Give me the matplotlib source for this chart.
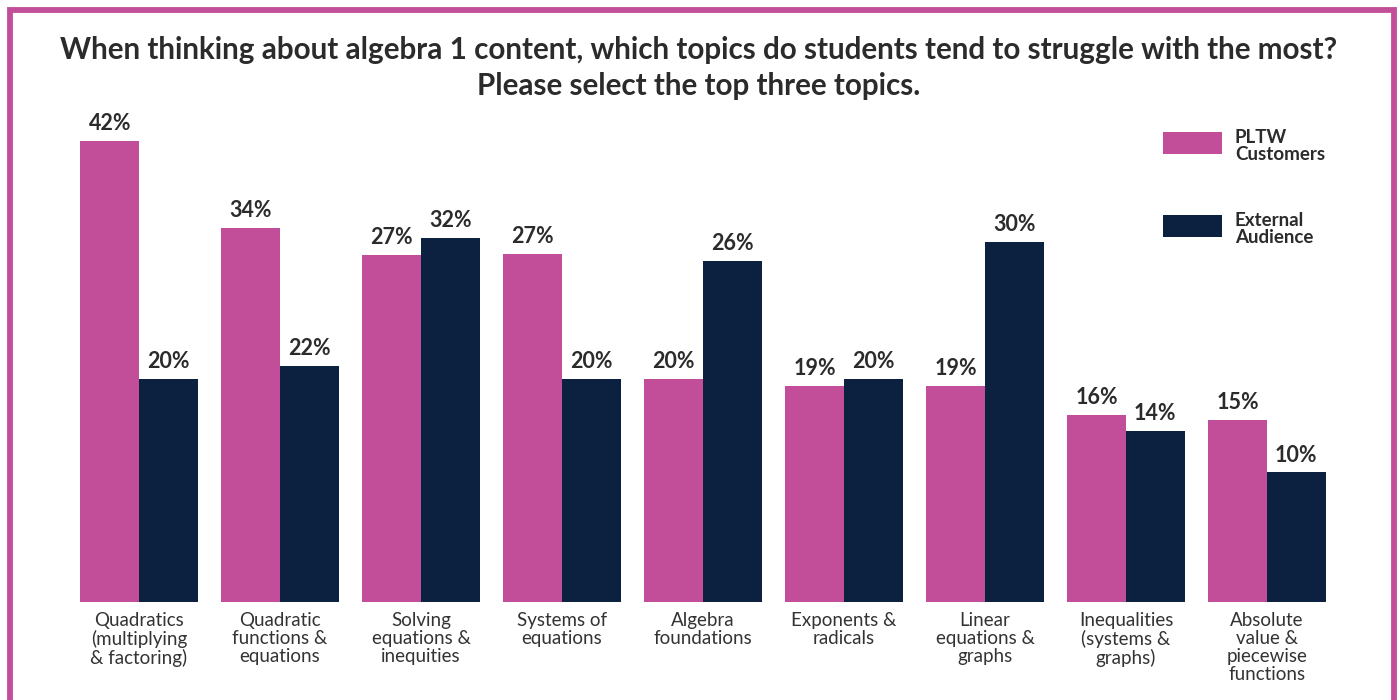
import matplotlib
matplotlib.use("Agg")
import matplotlib.pyplot as plt
from matplotlib.patches import Rectangle
import numpy as np

plt.rcParams['font.family'] = ['Lato', 'DejaVu Sans']

categories = [
    "Quadratics\n(multiplying\n& factoring)",
    "Quadratic\nfunctions &\nequations",
    "Solving\nequations &\ninequities",
    "Systems of\nequations",
    "Algebra\nfoundations",
    "Exponents &\nradicals",
    "Linear\nequations &\ngraphs",
    "Inequalities\n(systems &\ngraphs)",
    "Absolute\nvalue &\npiecewise\nfunctions",
]
series_names = ["PLTW\nCustomers", "External\nAudience"]

# printed value labels
pltw_labels = [42, 34, 27, 27, 20, 19, 19, 16, 15]
external_labels = [20, 22, 32, 20, 26, 20, 30, 14, 10]

# bar heights as drawn in the picture (percent units)
pltw_heights = [42.0, 34.1, 31.6, 31.7, 20.3, 19.7, 19.7, 17.0, 16.6]
external_heights = [20.3, 21.5, 33.2, 20.3, 31.1, 20.3, 32.8, 15.6, 11.8]

PINK = "#C24D98"
NAVY = "#0C213F"
TEXT = "#2B2B2B"

W, H = 1398, 700
fig = plt.figure(figsize=(W / 100, H / 100), dpi=100)
fig.patch.set_facecolor("white")

# axes geometry in pixels
x_left, x_right = 68.5, 1337.5
y_base = 602
ymax = 46
px_per_unit = 10.976
ax_h = ymax * px_per_unit
ax = fig.add_axes([x_left / W, (H - y_base) / H, (x_right - x_left) / W, ax_h / H])

x = np.arange(len(categories))
bw = 0.415
b1 = ax.bar(x - bw / 2, pltw_heights, bw, color=PINK, label=series_names[0])
b2 = ax.bar(x + bw / 2, external_heights, bw, color=NAVY, label=series_names[1])

ax.bar_label(b1, labels=[f"{v}%" for v in pltw_labels], padding=5.0,
             fontsize=15.5, fontweight="bold", color=TEXT)
ax.bar_label(b2, labels=[f"{v}%" for v in external_labels], padding=5.0,
             fontsize=15.5, fontweight="bold", color=TEXT)

ax.set_xlim(-0.5, len(categories) - 0.5)
ax.set_ylim(0, ymax)
ax.set_xticks(x)
ax.set_xticklabels(categories, fontsize=13.5, color="#333333", linespacing=1.08,
                   va="top")
ax.tick_params(axis="x", length=0, pad=7)
ax.set_yticks([])
for s in ax.spines.values():
    s.set_visible(False)

# legend (drawn in figure pixels to match the original placement)
leg_items = [(series_names[0], PINK, 132), (series_names[1], NAVY, 215)]
for name, col, top in leg_items:
    fig.add_artist(Rectangle((1163 / W, 1 - (top + 22) / H), 59 / W, 22 / H,
                             transform=fig.transFigure, facecolor=col,
                             edgecolor="none"))
    fig.text(1235 / W, 1 - (top - 3) / H, name, ha="left", va="top",
             fontsize=13.5, fontweight="bold", color=TEXT, linespacing=1.0)

fig.text(0.5, 1 - 50 / H,
         "When thinking about algebra 1 content, which topics do students tend to struggle with the most?",
         ha="center", va="center", fontsize=21.3, fontweight="bold", color=TEXT)
fig.text(0.5, 1 - 86 / H, "Please select the top three topics.",
         ha="center", va="center", fontsize=21.3, fontweight="bold", color=TEXT)

# decorative border
fig.add_artist(Rectangle((9.5 / W, -0.05), (1393.5 - 9.5) / W, (H - 10) / H + 0.05,
                         transform=fig.transFigure, fill=False, edgecolor=PINK,
                         linewidth=4.2, clip_on=False))

fig.savefig("out.png", dpi=100, facecolor="white")
